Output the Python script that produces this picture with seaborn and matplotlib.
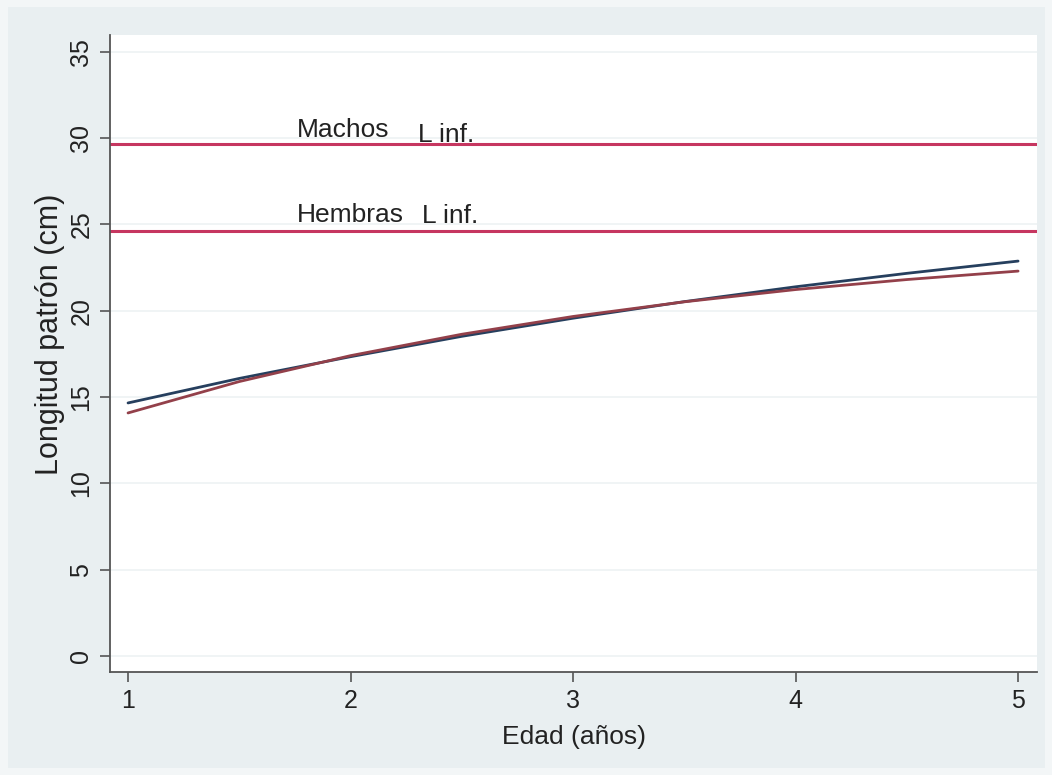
import numpy as np
import pandas as pd
import matplotlib
matplotlib.use("Agg")
import matplotlib.pyplot as plt
import seaborn as sns
from matplotlib.patches import Rectangle

# Growth curves: standard length (cm) by age (years)
edad = [1.0, 1.5, 2.0, 2.5, 3.0, 3.5, 4.0, 4.5, 5.0]
machos = [14.66, 16.08, 17.34, 18.52, 19.57, 20.53, 21.39, 22.17, 22.88]
hembras = [14.08, 15.90, 17.40, 18.64, 19.67, 20.52, 21.23, 21.81, 22.30]

# Asymptotic lengths (L inf.)
linf_machos = 29.67
linf_hembras = 24.63

y_ticks = [0, 5, 10, 15, 20, 25, 30, 35]
x_ticks = [1, 2, 3, 4, 5]

sns.set_theme(style="white")
plt.rcParams["font.family"] = ["Liberation Sans", "DejaVu Sans"]

df = pd.DataFrame({
    "edad": edad * 2,
    "longitud": machos + hembras,
    "sexo": ["Machos"] * len(edad) + ["Hembras"] * len(edad),
})

fig = plt.figure(figsize=(10.52, 7.75), dpi=100, facecolor="#f3f6f7")
fig.patches.append(Rectangle((8 / 1052, 7 / 775), 1 - 15 / 1052, 1 - 14 / 775,
                             transform=fig.transFigure, facecolor="#e9eff1",
                             edgecolor="none", zorder=-10))
ax = fig.add_axes([110 / 1052, 103 / 775, 927 / 1052, 637 / 775])
ax.set_zorder(5)
ax.set_facecolor("white")

for t in y_ticks:
    ax.axhline(t, color="#eef2f3", lw=1.2, zorder=0)

sns.lineplot(data=df, x="edad", y="longitud", hue="sexo",
             palette={"Machos": "#263f5e", "Hembras": "#93404a"},
             lw=2.0, legend=False, ax=ax, zorder=3)

line_col = "#c63660"
ax.axhline(linf_machos, color=line_col, lw=2.2, zorder=2)
ax.axhline(linf_hembras, color=line_col, lw=2.2, zorder=2)

fs = 19
txt = "#222222"
ax.text(1.76, 30.08, "Machos", fontsize=fs, va="baseline", ha="left", color=txt)
ax.text(2.303, 29.80, "L inf.", fontsize=fs, va="baseline", ha="left", color=txt)
ax.text(1.76, 25.17, "Hembras", fontsize=fs, va="baseline", ha="left", color=txt)
ax.text(2.32, 25.11, "L inf.", fontsize=fs, va="baseline", ha="left", color=txt)

ax.set_xlim(0.919, 5.085)
ax.set_ylim(-0.93, 35.98)
ax.set_xticks(x_ticks)
ax.set_yticks(y_ticks)
ax.set_xticklabels([str(v) for v in x_ticks], fontsize=18, color=txt)
ax.set_yticklabels([str(v) for v in y_ticks], fontsize=18, color=txt,
                   rotation=90, va="center")
ax.tick_params(axis="both", which="major", length=7, width=1.2, color="#555555",
               direction="out", pad=5, bottom=True, left=True)

for side in ["top", "right"]:
    ax.spines[side].set_visible(False)
for side in ["left", "bottom"]:
    ax.spines[side].set_color("#555555")
    ax.spines[side].set_linewidth(1.3)

ax.set_xlabel("Edad (años)", fontsize=19, color=txt)
ax.set_ylabel("Longitud patrón (cm)", fontsize=22, color=txt)
ax.xaxis.set_label_coords(0.50, -0.083)
ax.yaxis.set_label_coords(-0.049, 0.53)

fig.savefig("out.png", dpi=100, facecolor=fig.get_facecolor())
